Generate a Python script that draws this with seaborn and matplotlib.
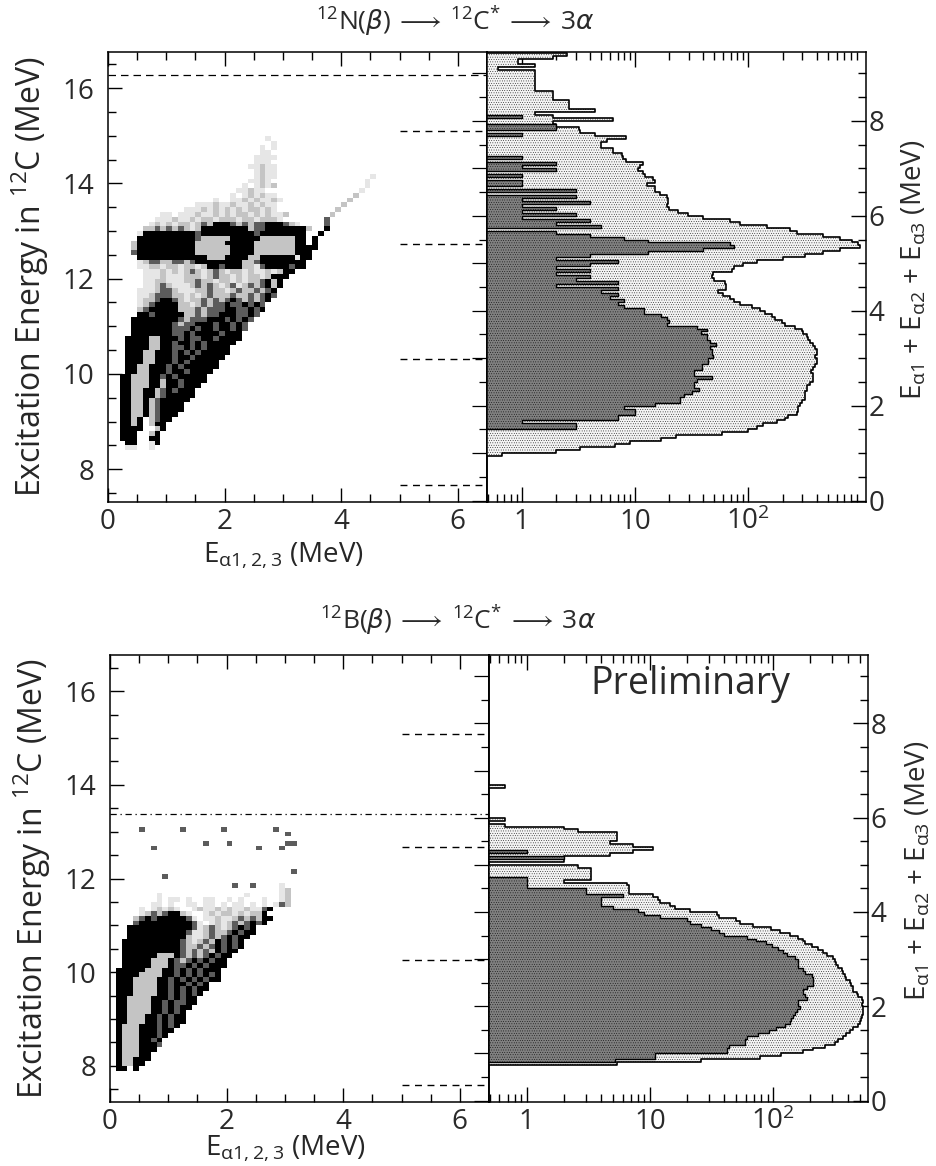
import numpy as np
import pandas as pd
import matplotlib
matplotlib.use('Agg')
import matplotlib.pyplot as plt
import seaborn as sns
from matplotlib.colors import ListedColormap
from matplotlib.ticker import MultipleLocator, LogLocator, NullFormatter, FixedLocator, FixedFormatter

# Density of the alpha energy vs excitation energy plots, one string per 0.1 MeV row
# ' ' empty, '.' few events, '-' sparse, '+' dense, '#' saturated
n_rows_y0 = 8.4
n_rows = [
    "   ..  .",
    "   ##  .#",
    "  ###  ##",
    "  ###  -#",
    "  ####  -#",
    "  ##-# -##",
    "  ##-# -+##",
    "  ##--#-+###",
    "  ##--#-+####",
    "  ##--#-+####",
    "  ##--#-+#####",
    "  ##--##-+#####",
    "  ##--##-+#+###",
    "  ##---##-##+###",
    "  ##---##-##+####",
    "  ##---##+#+#####",
    "   ##--###+##+####",
    "   ##--###+#+######",
    "   ###--###+#+#####",
    "   ###--###+##+#####",
    "   ###--###+#+#+#####",
    "   ####--##++#+#+####",
    "   ####--##+##+#+#####",
    "   ####--###+#++##+####",
    "    #######++#+####+###",
    "    #######+++#+##+##+#+",
    "    #######+-++###+##+#+",
    "    ########+-+++###+#+#+",
    "     ##+#####--+-++###++#+",
    "     -+#####---+-+++##++#+#",
    "     .-+####--.-+-++#++#+#+",
    "     .--+##+-.--+-+-+#+-+-+#",
    "     ..-+++--.-.-+---+--+-+#+",
    "     ...-++-...--+--.-+--+-+#",
    "      ..-+-...-+-+-.-+.-+-+#-#",
    "      ..--...--+--.--.-.--+#-#",
    "      ...-...---.-+--.-.--.-###",
    "      ...-.-.-+-.-+-.--.-..-.-##",
    "     ..--.--.--.-##+###--.+####+##",
    "     .-++--++-+########--+########",
    "     ############---####--######.##",
    "    +##########------####-------###",
    "    -##########------####-------####",
    "    -##########-----#####-------## #",
    "     ##########+-----#####------## #",
    "     .#########+#########+########  #",
    "      --+-+-+-.-########-++#######-  #",
    "       .-.-.--.-+-###+-+-++###+-.    +",
    "        ...-..-.--.---.--.---.       +",
    "         .. ...-..-.-.--.-.-..-       -",
    "             ...-.-.-.-.--.-.          -",
    "               ...-..-..-.-..           -",
    "                  .  ..-.-..-.           -",
    "                     . .-.-..             -",
    "                      ..-..                .",
    "                       . .-.-               .",
    "                        ..-.                .",
    "                         .-..                .",
    "                         .-..",
    "                        ..-..",
    "                         ...",
    "                         ....",
    "                          ..",
    "                          . .",
    "                            .",
    "                           .",
]
b_rows_y0 = 7.9
b_rows = [
    " ## #",
    " #--##",
    " #--###",
    " #---##",
    " #---###",
    " #---###+",
    " #---##+#",
    " #---###+#",
    " #---###+##",
    " #---###+#+#",
    " ##---##+#+##",
    " ##---##+#+##",
    " ##----##+#+#",
    " ##----##+#+##",
    " ##----##+#++##",
    " ##----###+#+##",
    " ###----##+#+#+#",
    " ###----##+#+#+##",
    " ###----##+##+#+#",
    " ###----##+#+#+#+##",
    " ####----##+#+#+#+#",
    " #####---##+#+#+###",
    "  #####---#++#+#+###",
    "  #####---#+-+#+#+##",
    "  ######---#+-+-+#+##",
    "  ##########+-+-+-#+##",
    "  ##########+--+-+#+#+#",
    "  ##########+-.-+-#+#+#",
    "   ##########-..-+-+#+##",
    "   ##########+..-+--+#+##",
    "   ###########+.-+-.-+#+#",
    "    +#########+. .-.-+-+#+#",
    "    -+#+#####+. ..-..-+-+-##",
    "     .-+-+##-.  .-.--.-.--#",
    "     . .-.-.  .-..-.-..-..+#",
    "       .. .  .. .. . .. . . .+-",
    "        . .. .  ..  . .   .  .-",
    "        .              .     .-",
    "                             .-",
    "                     +  +    .",
    "",
    "         +",
    "                               +",
    "",
    "",
    "",
    "",
    "       +                 +   +",
    "                +   +         ++",
    "",
    "                              +",
    "     +      +      +        +",
]
level_codes = {' ': 0, '.': 1, '-': 2, '+': 3, '#': 4}
level_colors = ['#ffffff', '#e6e6e6', '#c4c4c4', '#5c5c5c', '#000000']

# Counts per 0.0625 MeV bin of the summed alpha energy
bin_width = 0.0625
n_all_first = 15
n_all = [0.67, 2.0, 3.3, 6.7, 9, 17, 23, 58, 100, 118, 135, 177, 210, 225, 267, 275, 275, 285, 295, 316,
         316, 316, 326, 330, 350, 373, 373, 373, 360, 373, 386, 400, 400, 386, 400, 405, 386, 373, 350, 338,
         326, 305, 295, 258, 210, 197, 170, 161, 140, 127, 107, 85, 74, 69, 60, 54, 64, 64, 62, 50,
         48, 49, 71, 74, 90, 118, 203, 316, 458, 645, 965, 930, 815, 645, 458, 267, 233, 145, 85, 69,
         40, 29.5, 24, 20, 19, 19.7, 19.7, 19, 16.6, 15, 15, 12.7, 15, 14.5, 12.3, 11.8, 10.7, 11, 11.7, 8.4,
         7.9, 7.6, 6.4, 6.4, 5, 5, 5.6, 8.3, 4.4, 3.3, 3.2, 2, 1.9, 6.4, 1.9, 1.3, 4.4, 2.6, 2.6, 2.6,
         1.9, 1.9, 1.9, 1.3, 1.3, 1.3, 1.3, 1.3, 1.3, 1.3, 0.62, 1.3, 0.93, 0.93, 1.9, 2.5]
n_gated_first = 24
n_gated = [3, 3, 1, 7, 7, 10, 10, 8, 15, 25, 25, 27, 32, 37, 33, 33, 35, 48, 33, 33,
           39, 39, 44, 44, 49, 48, 48, 46, 52, 46, 43, 43, 38, 43, 35, 19, 20, 19, 17, 12,
           12, 8, 7, 8, 6, 7, 5, 7, 2, 7, 3, 4, 2, 4, 2, 4, 7, 2, 4, 13,
           40, 74, 69, 13, 8, 4, 2, 0, 5, 2, 4, 1, 3, 1, 2, 1, 4, 1, 3, 0,
           3, 0, 1, 1, 0, 1, 0, 2, 1, 2, 0, 1, 0, 0, 0, 0, 0, 0, 0, 1,
           0, 2, 2, 0, 0, 1]
b_all_first = 12
b_all = [5.4, 26, 78, 116, 175, 210, 262, 315, 333, 370, 392, 417, 443, 490, 505, 510, 520, 530, 538, 538,
         520, 530, 520, 490, 473, 443, 443, 430, 417, 392, 380, 370, 358, 333, 325, 315, 305, 270, 252, 232,
         205, 180, 175, 160, 136, 113, 96, 69, 54, 50, 36, 35, 21, 16, 14.5, 12, 11.7, 10.6, 6.7, 6.7,
         6.7, 6.5, 2, 3.3, 3.3, 3.3, 3.3, 2.6, 0, 2, 2, 4.7, 7.3, 10.6, 7.3, 4.7, 5.4, 5.4, 5.4, 2.6,
         2, 0.67, 0, 0.67, 0, 0, 0, 0, 0, 0, 0, 0, 0, 0, 0.67]
b_gated_first = 13
b_gated = [5.2, 11, 11, 42, 42, 44, 59, 59, 61, 75, 93, 106, 124, 136, 140, 145, 150, 155, 165, 160,
           160, 186, 180, 175, 175, 186, 210, 210, 210, 205, 180, 175, 160, 160, 160, 150, 128, 120, 110, 97,
           88, 73, 61, 40, 36, 31, 26, 21, 20, 12, 9, 8, 5, 4, 4, 4, 6, 3, 3, 1,
           1, 1, 1, 0, 0, 0, 0, 0, 0, 2, 0, 1]

# Dashed excitation levels (MeV)
n_levels = [15.1, 12.73, 10.32, 7.67]
n_full_level = 16.28
b_levels = [15.09, 12.67, 10.25, 7.6]
b_full_level = 13.38

arrow = r'$\,\longrightarrow\,$'
n_title = r'$^{12}$N($\mathit{\beta}$)' + arrow + r'$^{12}$C$^{*}$' + arrow + r'3$\mathit{\alpha}$'
b_title = r'$^{12}$B($\mathit{\beta}$)' + arrow + r'$^{12}$C$^{*}$' + arrow + r'3$\mathit{\alpha}$'
ylabel_left = r'Excitation Energy in $^{12}$C (MeV)'
xlabel_left = r'E$_{\alpha 1,2,3}$ (MeV)'
ylabel_right = r'E$_{\alpha 1}$ + E$_{\alpha 2}$ + E$_{\alpha 3}$ (MeV)'
count_ticks = [1, 10, 100]
count_labels = ['1', '10', r'10$^{2}$']

sns.set_theme(style='white')
plt.rcParams['font.family'] = ['Open Sans', 'DejaVu Sans']
plt.rcParams['mathtext.fontset'] = 'dejavusans'
plt.rcParams['mathtext.default'] = 'regular'
plt.rcParams['axes.edgecolor'] = 'black'
plt.rcParams['text.color'] = '#2a2a2a'
plt.rcParams['xtick.color'] = 'black'
plt.rcParams['ytick.color'] = 'black'
plt.rcParams['xtick.labelcolor'] = '#2a2a2a'
plt.rcParams['ytick.labelcolor'] = '#2a2a2a'
plt.rcParams['axes.linewidth'] = 1.1
plt.rcParams['hatch.linewidth'] = 0.25

W, H = 937, 1166
fig = plt.figure(figsize=(W / 100, H / 100), dpi=100)


def px_axes(x0, x1, y0, y1):
    return fig.add_axes([x0 / W, 1 - y1 / H, (x1 - x0) / W, (y1 - y0) / H])


def rows_to_frame(rows, y0):
    recs = []
    for r, row in enumerate(rows):
        for c, ch in enumerate(row):
            if ch != ' ':
                recs.append((0.1 * c + 0.05, y0 + 0.1 * r + 0.05, level_codes[ch]))
    return pd.DataFrame(recs, columns=['energy', 'excitation', 'level'])


def hist_frame(values, first):
    centers = (first + np.arange(len(values)) + 0.5) * bin_width
    return pd.DataFrame({'total': centers, 'count': values})


def draw_left(ax, rows, y0, levels, full_level, full_ls, ylim, label_y):
    df = rows_to_frame(rows, y0)
    xedges = np.arange(0, 5.01, 0.1)
    yedges = y0 + 0.1 * np.arange(len(rows) + 1)
    sns.histplot(data=df, x='energy', y='excitation', weights='level', bins=(xedges, yedges),
                 cmap=ListedColormap(level_colors), vmin=0, vmax=4, ax=ax)
    ax.hlines(levels, 5.0, 6.5, colors='black', linestyles=(0, (5, 4)), linewidth=1.0)
    ax.hlines(full_level, 0, 6.5, colors='black', linestyles=full_ls, linewidth=0.9)
    ax.set_xlim(0, 6.5)
    ax.set_ylim(*ylim)
    ax.xaxis.set_major_locator(MultipleLocator(2))
    ax.xaxis.set_minor_locator(MultipleLocator(0.5))
    ax.yaxis.set_major_locator(MultipleLocator(2))
    ax.yaxis.set_minor_locator(MultipleLocator(0.5))
    ax.tick_params(which='major', direction='in', length=10, width=1.0, top=True, bottom=True,
                   left=True, right=False, labelsize=20)
    ax.tick_params(which='minor', direction='in', length=5.5, width=1.0, top=True, bottom=True,
                   left=True, right=False)
    ax.tick_params(axis='y', pad=10)
    ax.tick_params(axis='x', pad=4)
    ax.set_xlabel(xlabel_left, fontsize=20)
    ax.xaxis.set_label_coords(0.462, label_y)
    ax.set_ylabel(ylabel_left, fontsize=23, labelpad=8)


def draw_right(ax, df_all, df_gated, xmax):
    sns.histplot(data=df_all, y='total', weights='count', binwidth=bin_width, binrange=(0, 9.5),
                 element='step', fill=True, facecolor='#f4f4f4', edgecolor='black', linewidth=1.2,
                 hatch='.......', alpha=1, ax=ax)
    sns.histplot(data=df_gated, y='total', weights='count', binwidth=bin_width, binrange=(0, 9.5),
                 element='step', fill=True, facecolor='#808080', edgecolor='black', linewidth=1.0,
                 hatch='.......', alpha=1, ax=ax)
    ax.set_xscale('log')
    ax.set_xlim(0.494, xmax)
    ax.set_ylim(-0.03, 9.45)
    ax.set_xlabel('')
    ax.set_ylabel('')
    ax.xaxis.set_major_locator(FixedLocator(count_ticks))
    ax.xaxis.set_major_formatter(FixedFormatter(count_labels))
    ax.xaxis.set_minor_locator(LogLocator(base=10, subs=np.arange(2, 10), numticks=12))
    ax.xaxis.set_minor_formatter(NullFormatter())
    ax.tick_params(axis='x', which='major', direction='in', length=11, width=1.0, top=True, bottom=True,
                   labelsize=20, pad=4)
    ax.tick_params(axis='x', which='minor', direction='in', length=5.5, width=1.0, top=True, bottom=True)
    ax.yaxis.tick_right()
    ax.yaxis.set_major_locator(MultipleLocator(2))
    ax.yaxis.set_minor_locator(MultipleLocator(0.5))
    ax.tick_params(axis='y', which='major', direction='in', length=11, width=1.0, left=False, right=True,
                   labelsize=20, pad=2)
    ax.tick_params(axis='y', which='minor', direction='in', length=5.5, width=1.0, left=False, right=True)
    sec = ax.secondary_yaxis('left')
    sec.yaxis.set_major_locator(MultipleLocator(1))
    sec.yaxis.set_minor_locator(MultipleLocator(0.5))
    sec.yaxis.set_major_formatter(NullFormatter())
    sec.tick_params(which='major', direction='out', length=11, width=0.9)
    sec.tick_params(which='minor', direction='out', length=5.5, width=0.9)


# upper pair, 12N
ax1 = px_axes(108, 487, 52, 502)
ax2 = px_axes(487, 866, 52, 502)
draw_left(ax1, n_rows, n_rows_y0, n_levels, n_full_level, (0, (6, 4)), (7.31, 16.76), -0.085)
draw_right(ax2, hist_frame(n_all, n_all_first), hist_frame(n_gated, n_gated_first), 1090)
fig.text(455 / W, 1 - 22 / H, n_title, fontsize=19, ha='center', va='center')
fig.text(914 / W, 1 - 270 / H, ylabel_right, fontsize=20, rotation=90, ha='center', va='center')

# lower pair, 12B
ax3 = px_axes(110, 489, 655, 1102)
ax4 = px_axes(489, 868, 655, 1102)
draw_left(ax3, b_rows, b_rows_y0, b_levels, b_full_level, (0, (5, 3, 1, 3)), (7.23, 16.77), -0.07)
draw_right(ax4, hist_frame(b_all, b_all_first), hist_frame(b_gated, b_gated_first), 586)
fig.text(690 / W, 1 - 684 / H, 'Preliminary', fontsize=27, ha='center', va='center')
fig.text(458 / W, 1 - 621 / H, b_title, fontsize=19, ha='center', va='center')
fig.text(918 / W, 1 - 871 / H, ylabel_right, fontsize=20, rotation=90, ha='center', va='center')

fig.savefig('out.png', dpi=100)
